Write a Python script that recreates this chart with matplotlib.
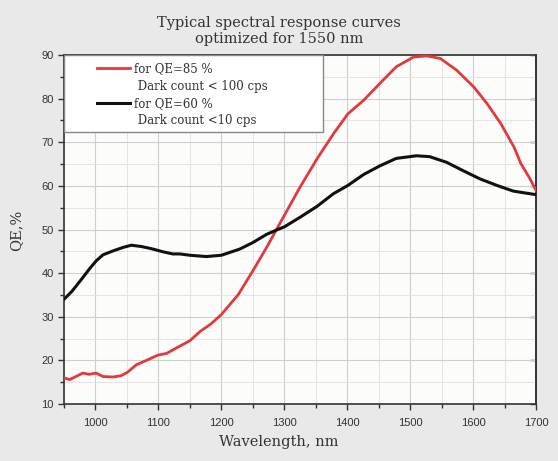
import numpy as np
import matplotlib
matplotlib.use("Agg")
import matplotlib.pyplot as plt
from matplotlib.lines import Line2D
from matplotlib.patches import Rectangle
from matplotlib.ticker import MultipleLocator, NullLocator

# curve for QE=85 % (dark count < 100 cps)
red_nm = [950, 959, 969, 980, 990, 1001, 1012, 1028, 1041, 1051, 1065, 1081, 1099, 1113,
          1128, 1150, 1166, 1183, 1200, 1227, 1250, 1272, 1288, 1300, 1325, 1352, 1378,
          1401, 1426, 1452, 1478, 1505, 1526, 1548, 1574, 1601, 1622, 1644, 1665, 1676,
          1689, 1700]
red_qe = [16.0, 15.6, 16.3, 17.1, 16.8, 17.1, 16.3, 16.2, 16.5, 17.3, 19.0, 20.0, 21.2, 21.6,
          22.8, 24.5, 26.6, 28.3, 30.5, 35.1, 40.5, 45.9, 50.1, 53.2, 59.7, 66.2, 71.9,
          76.5, 79.6, 83.5, 87.3, 89.5, 89.8, 89.2, 86.5, 82.7, 78.9, 74.3, 68.9, 65.1,
          62.0, 59.0]

# curve for QE=60 % (dark count < 10 cps)
blk_nm = [950, 963, 980, 990, 1001, 1012, 1028, 1044, 1057, 1073, 1089, 1107, 1123, 1134,
          1150, 1176, 1200, 1229, 1250, 1272, 1288, 1300, 1325, 1352, 1378, 1401, 1426,
          1452, 1478, 1510, 1531, 1558, 1584, 1611, 1638, 1664, 1686, 1700]
blk_qe = [34.0, 35.9, 39.0, 40.9, 42.8, 44.2, 45.1, 45.9, 46.4, 46.1, 45.6, 44.9, 44.4, 44.4,
          44.1, 43.8, 44.1, 45.5, 47.0, 48.9, 49.9, 50.6, 52.8, 55.3, 58.2, 60.1, 62.6,
          64.6, 66.3, 66.9, 66.7, 65.4, 63.5, 61.6, 60.1, 58.8, 58.3, 58.0]

labels = ["for QE=85 %", " Dark count < 100 cps", "for QE=60 %", " Dark count <10 cps"]

serif = "DejaVu Serif"
sans = "Liberation Sans"

fig = plt.figure(figsize=(5.58, 4.61), dpi=100, facecolor="#e9e9e9")
ax = fig.add_axes([0.1147, 0.1236, 0.8459, 0.7571])
ax.set_facecolor("#fcfcfa")

ax.plot(red_nm, red_qe, color="#e0393e", lw=2.0, zorder=3)
ax.plot(blk_nm, blk_qe, color="#111111", lw=2.2, zorder=3)

ax.set_xlim(950, 1700)
ax.set_ylim(10, 90)
ax.xaxis.set_major_locator(MultipleLocator(100))
ax.xaxis.set_minor_locator(MultipleLocator(50))
ax.yaxis.set_major_locator(MultipleLocator(10))
ax.yaxis.set_minor_locator(MultipleLocator(5))

ax.grid(which="major", color="#cfcfcf", lw=0.8)
ax.grid(which="minor", color="#e4e4e4", lw=0.7)
ax.set_axisbelow(True)

ax.tick_params(which="both", direction="out", top=False, right=False,
               color="#333333", labelcolor="#333333")
ax.tick_params(which="major", length=4, width=1)
ax.tick_params(which="minor", length=3, width=1)
ax.tick_params(axis="x", pad=6)
for lab in ax.get_xticklabels() + ax.get_yticklabels():
    lab.set_fontfamily(sans)
    lab.set_fontsize(8)
for sp in ax.spines.values():
    sp.set_color("#333333")
    sp.set_linewidth(1.2)

# right axis: inward ticks at the major values only
rax = ax.secondary_yaxis("right")
rax.yaxis.set_major_locator(MultipleLocator(10))
rax.yaxis.set_minor_locator(NullLocator())
rax.tick_params(direction="in", length=4, width=1, color="#333333", labelright=False)
rax.spines["right"].set_color("#333333")
rax.spines["right"].set_linewidth(1.2)

fig.text(0.5, 0.965, "Typical spectral response curves\noptimized for 1550 nm",
         ha="center", va="top", family=serif, fontsize=10.5, color="#333333",
         linespacing=1.15)
fig.text(0.5, 0.025, "Wavelength, nm", ha="center", va="bottom",
         family=serif, fontsize=10.5, color="#333333")
fig.text(0.03, 0.5, "QE,%", ha="center", va="center", rotation=90,
         family=serif, fontsize=10.5, color="#333333")

# legend box
ax.add_patch(Rectangle((0, 0.779), 0.549, 0.221, transform=ax.transAxes,
                       facecolor="white", edgecolor="#888888", lw=1.0, zorder=4))
handles = [Line2D([], [], color="#e0393e", lw=2.0),
           Line2D([], [], color="none"),
           Line2D([], [], color="#111111", lw=2.2),
           Line2D([], [], color="none")]
leg = ax.legend(handles, labels, loc="upper left", bbox_to_anchor=(0.063, 0.99),
                frameon=False, prop={"family": serif, "size": 8.5},
                handlelength=2.8, handletextpad=0.35, labelspacing=0.38,
                borderpad=0.3, borderaxespad=0)
leg.set_zorder(5)
for t in leg.get_texts():
    t.set_color("#333333")

fig.savefig("out.png", dpi=100, facecolor=fig.get_facecolor())
